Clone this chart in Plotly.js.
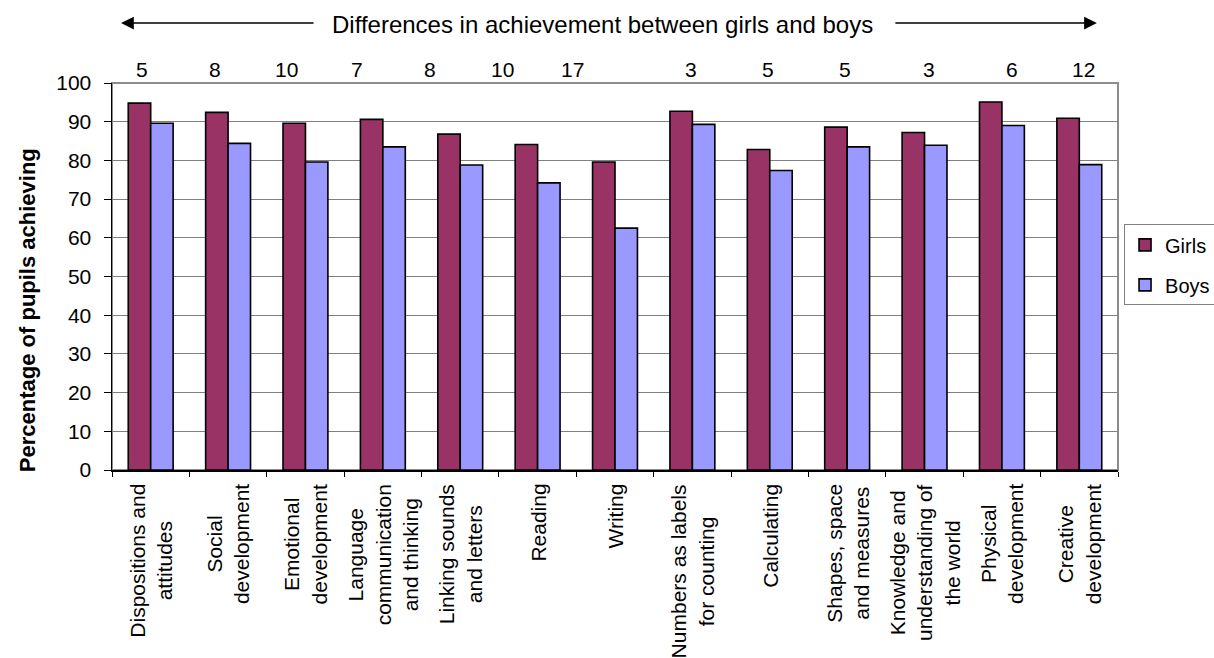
<!DOCTYPE html>
<html>
<head>
<meta charset="utf-8">
<script src="https://cdn.plot.ly/plotly-3.0.1.min.js"></script>
<style>
  html, body { margin: 0; padding: 0; background: #fff; }
  #chart { width: 1214px; height: 658px; }
</style>
</head>
<body>
<div id="chart"></div>
<script>
// Foundation stage profile areas and the share of pupils achieving in each
const categories = [
  "Dispositions and<br>attitudes",
  "Social<br>development",
  "Emotional<br>development",
  "Language<br>communication<br>and thinking",
  "Linking sounds<br>and letters",
  "Reading",
  "Writing",
  "Numbers as labels<br>for counting",
  "Calculating",
  "Shapes, space<br>and measures",
  "Knowledge and<br>understanding of<br>the world",
  "Physical<br>development",
  "Creative<br>development"
];
const girls = [94.8, 92.4, 89.6, 90.6, 86.8, 84.1, 79.6, 92.7, 82.8, 88.6, 87.2, 95.1, 90.9];
const boys  = [89.6, 84.4, 79.6, 83.5, 78.8, 74.2, 62.5, 89.3, 77.4, 83.5, 83.9, 89.0, 78.9];
const yTicks = [0, 10, 20, 30, 40, 50, 60, 70, 80, 90, 100];

const FONT = "Liberation Sans, Arial, sans-serif";

// Gap between girls and boys for each area, shown above the plot
const gaps = girls.map((g, i) => Math.round(g - boys[i]));
// horizontal nudges for the gap labels (px)
const gapShift = [-9, -13, -19, -26, -30, -35, -43, -1, -2, -2, 4, 10, 4];

const traces = [
  {
    type: "bar", name: "Girls", x: categories, y: girls,
    legendgroup: "g",
    marker: { color: "#993366", line: { color: "#000000", width: 1.6 } },
    hoverinfo: "y"
  },
  {
    type: "bar", name: "Boys", x: categories, y: boys,
    legendgroup: "b",
    marker: { color: "#9999FF", line: { color: "#000000", width: 1.6 } },
    hoverinfo: "y"
  }
];

const annotations = [];

// rotated category labels, lines centred on each other
categories.forEach(c => {
  annotations.push({
    x: c, xref: "x", y: 0, yref: "paper",
    xanchor: "center", yanchor: "top", yshift: -12,
    text: c, textangle: -90, align: "center", showarrow: false,
    font: { family: FONT, size: 21, color: "#000" }
  });
});

// difference row
categories.forEach((c, i) => {
  annotations.push({
    x: c, xref: "x", y: 1.034, yref: "paper",
    xanchor: "center", yanchor: "middle", xshift: gapShift[i],
    text: String(gaps[i]), showarrow: false,
    font: { family: FONT, size: 21, color: "#000" }
  });
});

// heading with arrows either side
annotations.push({
  x: 0.488, xref: "paper", y: 1.150, yref: "paper",
  xanchor: "center", yanchor: "middle",
  text: "Differences in achievement between girls and boys", showarrow: false,
  font: { family: FONT, size: 24, color: "#000" }
});
annotations.push({
  x: 0.009, xref: "paper", y: 1.155, yref: "paper",
  ax: 194, ay: 0, axref: "pixel", ayref: "pixel",
  text: "", showarrow: true, arrowhead: 2, arrowsize: 1.7, arrowwidth: 1.5, arrowcolor: "#000"
});
annotations.push({
  x: 0.979, xref: "paper", y: 1.155, yref: "paper",
  ax: -203, ay: 0, axref: "pixel", ayref: "pixel",
  text: "", showarrow: true, arrowhead: 2, arrowsize: 1.7, arrowwidth: 1.5, arrowcolor: "#000"
});

// y axis title
annotations.push({
  x: -0.0845, xref: "paper", y: 0.413, yref: "paper",
  xanchor: "center", yanchor: "middle", textangle: -90,
  text: "<b>Percentage of pupils achieving</b>", showarrow: false,
  font: { family: FONT, size: 22, color: "#000" }
});

const layout = {
  width: 1214, height: 658,
  margin: { l: 112, r: 96, t: 83, b: 188, autoexpand: false },
  paper_bgcolor: "#ffffff", plot_bgcolor: "#ffffff",
  font: { family: FONT, size: 20, color: "#000" },
  barmode: "group", bargap: 0.42, bargroupgap: 0,
  showlegend: true,
  legend: {
    x: 1.006, xanchor: "left", y: 0.53, yanchor: "middle",
    bordercolor: "#808080", borderwidth: 1, bgcolor: "#ffffff",
    font: { family: FONT, size: 20, color: "#000" },
    traceorder: "grouped", tracegroupgap: 11
  },
  xaxis: {
    type: "category", showticklabels: false,
    showline: true, linecolor: "#000", linewidth: 1.5,
    ticks: "outside", tickson: "boundaries", ticklen: 5, tickcolor: "#000", tickwidth: 1,
    showgrid: false, zeroline: false, fixedrange: true
  },
  yaxis: {
    range: [0, 100], tickvals: yTicks, ticktext: yTicks.map(String),
    showline: true, linecolor: "#000", linewidth: 1.5,
    ticks: "outside", ticklen: 7, tickcolor: "#000", tickwidth: 1,
    ticklabelstandoff: 8,
    showgrid: true, gridcolor: "#808080", gridwidth: 1,
    zeroline: false, fixedrange: true,
    tickfont: { family: FONT, size: 21, color: "#000" }
  },
  shapes: [{
    type: "rect", xref: "paper", yref: "paper", x0: 0, x1: 1, y0: 0, y1: 1,
    line: { color: "#8c8c8c", width: 2 }, layer: "below"
  }],
  annotations: annotations
};

Plotly.newPlot("chart", traces, layout, { staticPlot: true, displayModeBar: false });
</script>
</body>
</html>
